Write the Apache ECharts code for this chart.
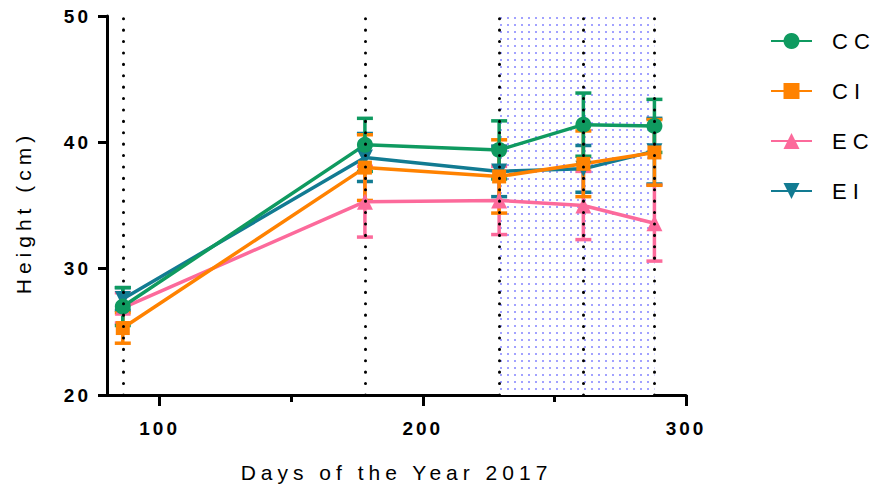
<!DOCTYPE html>
<html><head><meta charset="utf-8">
<script src="https://cdn.jsdelivr.net/npm/echarts@6/dist/echarts.min.js"></script>
<style>
html,body{margin:0;padding:0;background:#fff;}
#chart{width:877px;height:490px;}
#chart text{letter-spacing:3px;}
</style></head><body><div id="chart"></div>
<script>
// ---- data ----
const days = [86, 178, 229, 261, 288];
const seriesNames = ['CC', 'CI', 'EC', 'EI'];
const ccMean = [27.0, 39.8, 39.4, 41.4, 41.3];
const ccSd   = [1.5, 2.1, 2.3, 2.5, 2.1];
const ciMean = [25.3, 38.0, 37.3, 38.3, 39.2];
const ciSd   = [1.2, 2.6, 2.9, 2.6, 2.6];
const ecMean = [26.9, 35.3, 35.4, 35.0, 33.6];
const ecSd   = [1.2, 2.8, 2.7, 2.7, 3.0];
const eiMean = [27.6, 38.8, 37.7, 37.9, 39.3];
const eiSd   = [0.9, 1.9, 2.0, 1.85, 2.6];
const xTickValues = [100, 200, 300];
const xMinorTickValues = [150, 250];
const shadedRange = [229, 288];

const colors = { CC: '#0F9A60', CI: '#FF8200', EC: '#FC6A9B', EI: '#127B92' };
const FONT = "'Liberation Sans', Arial, sans-serif";

// dotted pattern for shaded window
const pc = document.createElement('canvas');
pc.width = 7; pc.height = 7;
const pctx = pc.getContext('2d');
pctx.fillStyle = '#ffffff'; pctx.fillRect(0,0,7,7);
pctx.fillStyle = 'rgba(100,100,255,0.6)';
pctx.fillRect(3,3,2,2);

function errSeries(name, mean, sd) {
  const color = colors[name];
  return {
    type: 'custom', name: name + '_err', z: 3, silent: true,
    data: days.map((d, i) => [d, mean[i] - sd[i], mean[i] + sd[i]]),
    encode: { x: 0, y: [1, 2] },
    renderItem(params, api) {
      const x = api.value(0);
      const lo = api.coord([x, api.value(1)]);
      const hi = api.coord([x, api.value(2)]);
      const hw = 8;
      const st = { stroke: color, lineWidth: 3.5 };
      return { type: 'group', children: [
        { type: 'line', shape: { x1: lo[0], y1: lo[1], x2: hi[0], y2: hi[1] }, style: st },
        { type: 'line', shape: { x1: lo[0]-hw, y1: lo[1], x2: lo[0]+hw, y2: lo[1] }, style: st },
        { type: 'line', shape: { x1: hi[0]-hw, y1: hi[1], x2: hi[0]+hw, y2: hi[1] }, style: st }
      ]};
    }
  };
}
function lineSeries(name, mean, symbol, size, rotate) {
  return {
    type: 'line', name: name, z: 3,
    data: days.map((d, i) => [d, mean[i]]),
    symbol: symbol, symbolSize: size, symbolRotate: rotate || 0,
    showAllSymbol: true,
    lineStyle: { color: colors[name], width: 3.5 },
    itemStyle: { color: colors[name], opacity: 1 },
    emphasis: { disabled: true }
  };
}

const chart = echarts.init(document.getElementById('chart'), null, { renderer: 'svg' });
const option = {
  animation: false,
  backgroundColor: '#fff',
  textStyle: { fontFamily: FONT },
  grid: { left: 107, right: 191, top: 16, bottom: 95, containLabel: false },
  legend: {
    orient: 'vertical', left: 770, top: 30, padding: 0,
    data: seriesNames,
    itemWidth: 41, itemHeight: 20, itemGap: 28,
    selectedMode: false,
    textStyle: { fontSize: 22, color: '#000', fontFamily: FONT, padding: [0, 0, 0, 15] }
  },
  xAxis: [{
    type: 'value', min: 80, max: 300,
    name: 'Days of the Year 2017', nameLocation: 'middle', nameGap: 67,
    nameTextStyle: { fontSize: 21, color: '#000', fontFamily: FONT },
    axisLine: { show: true, lineStyle: { color: '#000', width: 3 } },
    axisTick: { show: true, customValues: xTickValues, length: 11, lineStyle: { color: '#000', width: 3 } },
    axisLabel: { customValues: xTickValues, fontSize: 19, fontWeight: 'bold', color: '#000', margin: 24, fontFamily: FONT },
    splitLine: { show: false }
  }, {
    type: 'value', min: 80, max: 300, position: 'bottom', gridIndex: 0,
    axisLine: { show: false },
    axisTick: { show: true, customValues: xMinorTickValues, length: 7, lineStyle: { color: '#000', width: 3 } },
    axisLabel: { show: false },
    splitLine: { show: false }
  }],
  yAxis: {
    type: 'value', min: 20, max: 50, interval: 10,
    name: 'Height (cm)', nameLocation: 'middle', nameGap: 73,
    nameTextStyle: { fontSize: 21, color: '#000', fontFamily: FONT, padding: [0, 14, 0, 0] },
    axisLine: { show: true, lineStyle: { color: '#000', width: 3 } },
    axisTick: { show: true, length: 9, lineStyle: { color: '#000', width: 3 } },
    axisLabel: { fontSize: 19, fontWeight: 'bold', color: '#000', margin: 16, fontFamily: FONT },
    splitLine: { show: false }
  },
  series: [
    { type: 'line', name: '_area', z: 1, data: [], silent: true,
      markArea: { silent: true, itemStyle: { color: { image: pc, repeat: 'repeat' }, opacity: 1, borderWidth: 0 },
        data: [[{ xAxis: shadedRange[0] }, { xAxis: shadedRange[1] }]] } },
    { type: 'line', name: '_vlines', z: 2, data: [], silent: true,
      markLine: { silent: true, symbol: ['none', 'none'], label: { show: false },
        lineStyle: { color: '#000', width: 3, type: [0.1, 11.3], cap: 'round', opacity: 1 },
        emphasis: { disabled: true },
        data: days.map(d => ({ xAxis: d })) } },
    errSeries('EI', eiMean, eiSd), lineSeries('EI', eiMean, 'triangle', 16, 180),
    errSeries('EC', ecMean, ecSd), lineSeries('EC', ecMean, 'triangle', 16, 0),
    errSeries('CI', ciMean, ciSd), lineSeries('CI', ciMean, 'rect', 14, 0),
    errSeries('CC', ccMean, ccSd), lineSeries('CC', ccMean, 'circle', 16, 0)
  ]
};
chart.setOption(option);
function spacing() {
  document.querySelectorAll('#chart text').forEach(t => {
    const s = t.textContent.trim();
    if (seriesNames.indexOf(s) >= 0) t.style.letterSpacing = '6px';
    else if (s === 'Days of the Year 2017' || s === 'Height (cm)') t.style.letterSpacing = '5px';
  });
}
spacing();
chart.on('finished', spacing);
</script></body></html>
